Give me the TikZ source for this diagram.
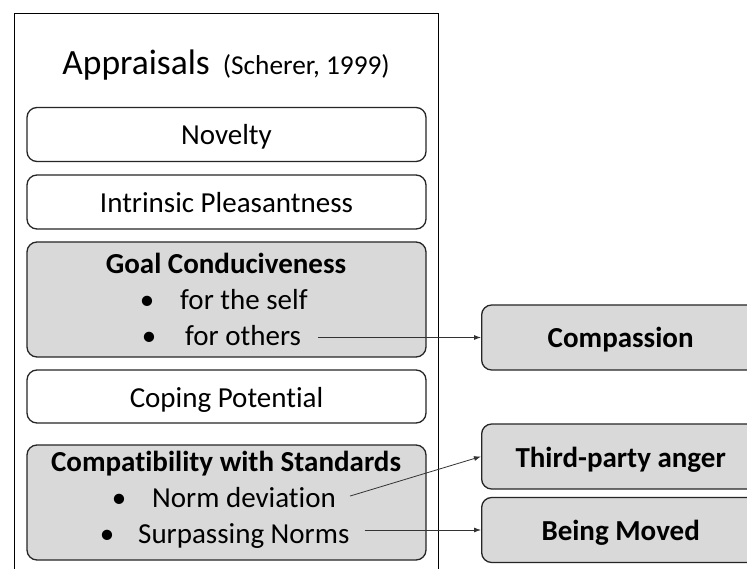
\documentclass[tikz,border=0pt]{standalone}
\usepackage{fontspec}
\setmainfont{Carlito}[Ligatures=NoCommon]
\usetikzlibrary{arrows.meta,calc}
\definecolor{boxgray}{HTML}{D9D9D9}
\definecolor{edge}{HTML}{262626}
\newcommand\bodyfont{\fontsize{29}{34}\selectfont}
\tikzset{
  box/.style={draw=edge, line width=1.3pt, rounded corners=10pt, minimum width=399pt,
    inner sep=0pt, text height=21pt, text depth=0pt, font=\bodyfont},
  graybox/.style={box, fill=boxgray},
  emobox/.style={draw=edge, line width=1.3pt, rounded corners=10pt, fill=boxgray,
    minimum width=278pt, minimum height=65pt, inner sep=0pt, text height=21pt,
    text depth=0pt, font=\bodyfont\bfseries, anchor=west},
  txt/.style={inner sep=0pt, font=\bodyfont},
  arr/.style={draw=black!80, line width=0.8pt, -{Latex[length=7pt,width=5pt]}},
}
\begin{document}
\begin{tikzpicture}[x=1pt, y=-1pt]
\useasboundingbox (0,0) rectangle (747,569);
\clip (0,0) rectangle (747,569);
\fill[white] (0,0) rectangle (747,569);

% outer frame
\node (frame) [draw=black, line width=1.2pt, minimum width=424pt, minimum height=620pt,
  anchor=north west, inner sep=0pt] at (14,13) {};

% title
\node (title) [inner sep=0pt, anchor=base] at (226,75)
  {{\fontsize{35.5}{38}\selectfont Appraisals}\hspace{13pt}{\fontsize{27.3}{30}\selectfont (Scherer, 1999)}};

% appraisal boxes
\node (nov) [box, minimum height=54pt] at (226.5,134.5) {Novelty};
\node (ip) [box, minimum height=54pt] at (226.5,202) {Intrinsic Pleasantness};
\node (goal) [graybox, minimum height=115pt] at (226.5,299.5) {};
\node (goalt) [txt, font=\bodyfont\bfseries, anchor=base] at (226,274) {Goal Conduciveness};
\node (b1) [txt, anchor=base] at (147,310) {•};
\node (self) [txt, anchor=base west] at (180,310) {for the self};
\node (b2) [txt, anchor=base] at (149,345) {•};
\node (others) [txt, anchor=base west] at (185,345) {for others};

\node (cop) [box, minimum height=53pt] at (226.5,396.5) {Coping Potential};
\node (comp) [graybox, minimum height=115pt] at (226.5,502.5) {};
\node (compt) [txt, font=\bodyfont\bfseries, anchor=base] at (226,471) {Compatibility with Standards};
\node (b3) [txt, anchor=base] at (119,507) {•};
\node (normdev) [txt, anchor=base west] at (152,507) {Norm deviation};
\node (b4) [txt, anchor=base] at (107,543) {•};
\node (surp) [txt, anchor=base west] at (138,543) {Surpassing Norms};

% emotion boxes
\node (compassion) [emobox] at (481,337.5) {Compassion};
\node (anger) [emobox] at (481,456.5) {Third-party anger};
\node (moved) [emobox] at (481,530) {Being Moved};

% connectors
\draw[arr] ($(others.east |- compassion.west)+(17pt,0)$) -- (compassion.west);
\draw[arr] ($(normdev.east)+(14pt,1pt)$) -- (anger.west);
\draw[arr] ($(surp.east |- moved.west)+(15pt,0)$) -- (moved.west);
\end{tikzpicture}
\end{document}
